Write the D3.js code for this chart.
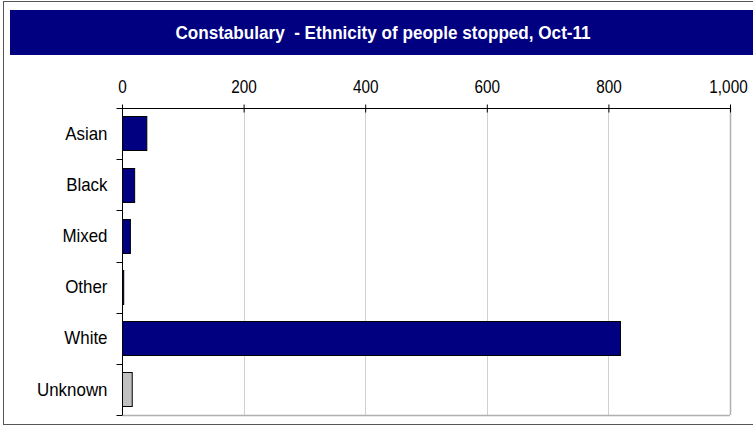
<!DOCTYPE html>
<html>
<head>
<meta charset="utf-8">
<script src="https://cdn.jsdelivr.net/npm/d3@7"></script>
<style>
  body { margin: 0; background: #fff; }
  text { font-family: "Liberation Sans", Arial, sans-serif; }
</style>
</head>
<body>
<svg id="chart"></svg>
<script>
// Data
var categories = ["Asian", "Black", "Mixed", "Other", "White", "Unknown"];
var values = [40, 20, 13, 2, 819, 16];
var barColours = ["#000080", "#000080", "#000080", "#000080", "#000080", "#c0c0c0"];
var tickValues = [0, 200, 400, 600, 800, 1000];

var width = 753,
    height = 426;

var margin = { top: 108, right: 23, bottom: 11, left: 122 };

// squeeze text horizontally (reference uses a narrow face)
function narrow(sel, f) {
  sel.each(function () {
    var w = this.getComputedTextLength();
    d3.select(this).attr("textLength", w * f).attr("lengthAdjust", "spacingAndGlyphs");
  });
}

var svg = d3.select("#chart")
  .attr("width", width)
  .attr("height", height);

// outer frame
svg.append("rect")
  .attr("x", 3.5).attr("y", 1.5)
  .attr("width", width + 10).attr("height", height - 3)
  .attr("fill", "#fff")
  .attr("stroke", "#555");

// title band
svg.append("rect")
  .attr("x", 10).attr("y", 10)
  .attr("width", width - 10).attr("height", 45)
  .attr("fill", "#000080");

svg.append("text")
  .attr("x", 383).attr("y", 39)
  .attr("text-anchor", "middle")
  .attr("fill", "#fff")
  .style("font-size", "19px")
  .style("font-weight", "bold")
  .style("white-space", "pre")
  .text("Constabulary  - Ethnicity of people stopped, Oct-11")
  .call(narrow, 0.9);

var innerW = width - margin.left - margin.right,
    innerH = height - margin.top - margin.bottom;

var x = d3.scaleLinear().domain([0, 1000]).range([0, innerW]);
var y = d3.scaleBand().domain(categories).range([0, innerH]).paddingInner(0.33).paddingOuter(0.165);

var g = svg.append("g")
  .attr("transform", "translate(" + margin.left + "," + margin.top + ")");

// gridlines
g.selectAll(".grid")
  .data(tickValues.slice(1))
  .enter().append("line")
  .attr("x1", function (d) { return Math.round(x(d)) + 0.5; })
  .attr("x2", function (d) { return Math.round(x(d)) + 0.5; })
  .attr("y1", 0).attr("y2", innerH)
  .attr("stroke", "#d0d0d0");

// right & bottom border of plot area
g.append("line")
  .attr("x1", Math.round(innerW) + 0.5).attr("x2", Math.round(innerW) + 0.5)
  .attr("y1", 0).attr("y2", innerH)
  .attr("stroke", "#b0b0b0").attr("stroke-width", 1.5);
g.append("line")
  .attr("x1", 0).attr("x2", innerW)
  .attr("y1", innerH + 0.5).attr("y2", innerH + 0.5)
  .attr("stroke", "#b0b0b0").attr("stroke-width", 1.5);

// bars
g.selectAll(".bar")
  .data(values)
  .enter().append("rect")
  .attr("class", "bar")
  .attr("x", 0.5)
  .attr("y", function (d, i) { return Math.round(y(categories[i])) + 0.5; })
  .attr("width", function (d) { return Math.max(x(d), 1); })
  .attr("height", Math.round(y.bandwidth()))
  .attr("fill", function (d, i) { return barColours[i]; })
  .attr("stroke", "#000");

// top axis
var xAxis = d3.axisTop(x)
  .tickValues(tickValues)
  .tickSize(6)
  .tickPadding(8)
  .tickFormat(d3.format(","));

var ax = g.append("g").attr("transform", "translate(0,0.5)").call(xAxis);
ax.select(".domain").attr("d", "M0,0H" + innerW).attr("stroke", "#000");
ax.selectAll(".tick line").attr("y2", 4).attr("y1", -4).attr("stroke", "#000");
ax.selectAll(".tick text")
  .style("font-size", "18px")
  .attr("fill", "#000")
  .attr("y", -16)
  .call(narrow, 0.85);
// keep the last label inside the window
ax.selectAll(".tick text").filter(function (d) { return d === 1000; }).attr("x", -2);

// left axis with ticks between categories
var yAxis = d3.axisLeft(y).tickSize(0).tickPadding(15);
var ay = g.append("g").attr("transform", "translate(0.5,0)").call(yAxis);
ay.select(".domain").attr("d", "M0,0V" + innerH).attr("stroke", "#000");
ay.selectAll(".tick text")
  .style("font-size", "19px")
  .attr("fill", "#000")
  .call(narrow, 0.89);

var step = innerH / categories.length;
ay.selectAll(".sep")
  .data(d3.range(categories.length + 1))
  .enter().append("line")
  .attr("x1", -6).attr("x2", 0)
  .attr("y1", function (d) { return Math.round(d * step) + 0.5; })
  .attr("y2", function (d) { return Math.round(d * step) + 0.5; })
  .attr("stroke", "#000");
</script>
</body>
</html>
